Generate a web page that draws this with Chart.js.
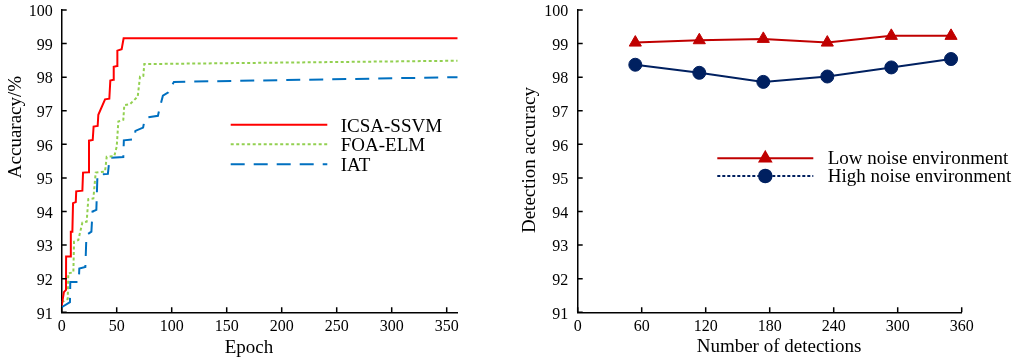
<!DOCTYPE html>
<html>
<head>
<meta charset="utf-8">
<script src="https://cdn.jsdelivr.net/npm/chart.js@4.4.1/dist/chart.umd.min.js"></script>
<style>
  html, body { margin: 0; padding: 0; background: #fff; }
  #wrap { position: relative; width: 1025px; height: 359px; }
  canvas { position: absolute; top: 0; }
  #left { left: 0; }
  #right { left: 500px; }
</style>
</head>
<body>
<div id="wrap">
  <canvas id="left" width="480" height="359"></canvas>
  <canvas id="right" width="525" height="359"></canvas>
</div>
<script>
'use strict';

/* DATA */

// left panel: accuracy per epoch (step curves)
const icsaEpoch = [0, 2, 3.9, 4, 8.2, 8.3, 9.7, 10.3, 12.8, 13.2, 18.8, 19.4, 24.2, 24.8, 28.2, 29, 32.7, 33.3, 39.4, 43.3, 44.2, 47, 47.3, 50.3, 50.6, 54.5, 56.3, 360];
const icsaAcc   = [91.2, 91.6, 91.67, 92.66, 92.66, 93.4, 93.4, 94.25, 94.28, 94.6, 94.62, 95.16, 95.17, 96.11, 96.13, 96.53, 96.55, 96.88, 97.34, 97.36, 97.9, 97.92, 98.31, 98.33, 98.79, 98.83, 99.16, 99.16];

const foaEpoch = [0, 5.5, 6, 10.6, 11.2, 15.1, 18.8, 22.7, 24.2, 28.8, 30.9, 39.4, 40.9, 47.8, 50, 51.5, 56, 56.9, 62.1, 69.1, 71.2, 74.2, 75.1, 360];
const foaAcc   = [91.3, 91.4, 92.16, 92.19, 93.1, 93.15, 93.67, 93.7, 94.37, 94.39, 95.16, 95.19, 95.63, 95.65, 95.93, 96.68, 96.73, 97.17, 97.2, 97.42, 98.02, 98.04, 98.39, 98.49];

const iatEpoch = [0, 7.5, 7.8, 15.5, 16, 21.5, 22.5, 27, 28, 31.5, 32.5, 42, 43.5, 56, 56.5, 66, 67, 74, 75.5, 77.5, 87.5, 88.5, 92, 97, 102, 360];
const iatAcc   = [91.15, 91.3, 91.9, 91.9, 92.3, 92.35, 93.3, 93.4, 94.0, 94.05, 95.1, 95.12, 95.6, 95.62, 96.12, 96.15, 96.4, 96.5, 96.75, 96.8, 96.85, 97.0, 97.45, 97.55, 97.86, 98.0];

// right panel: accuracy per number of detections
const detections = [54, 114, 174, 234, 294, 350];
const lowNoise   = [99.03, 99.1, 99.14, 99.03, 99.23, 99.23];
const highNoise  = [98.37, 98.13, 97.86, 98.02, 98.29, 98.54];

// tick labels
const accuracyTicks  = [91, 92, 93, 94, 95, 96, 97, 98, 99, 100];
const epochTicks     = [0, 50, 100, 150, 200, 250, 300, 350];
const detectionTicks = [0, 60, 120, 180, 240, 300, 360];

/* HELPERS */

const FONT = "'Liberation Serif', 'Times New Roman', serif";

function points(xs, ys) {
  return xs.map(function(x, i) { return { x: x, y: ys[i] }; });
}

function fixedTicks(values) {
  return function(scale) {
    scale.ticks = values.map(function(v) { return { value: v }; });
  };
}

// fixed axis box sizes, labels may overflow the plot edges
function fixedSize(w, h) {
  return function(s) {
    if (w) s.width = w;
    if (h) s.height = h;
    s.paddingTop = 0;
    s.paddingBottom = 0;
    s.paddingLeft = 0;
    s.paddingRight = 0;
  };
}

// inward tick marks, free placed axis titles and a legend inside the plot
const decor = {
  id: 'decor',
  afterDraw(chart, args, opts) {
    const ctx = chart.ctx;
    const area = chart.chartArea;
    const xs = chart.scales.x;
    const ys = chart.scales.y;
    ctx.save();

    ctx.strokeStyle = '#000';
    ctx.lineWidth = 1.5;
    ctx.beginPath();
    xs.ticks.forEach(function(t) {
      const px = xs.getPixelForValue(t.value);
      ctx.moveTo(px, area.bottom);
      ctx.lineTo(px, area.bottom - 5);
    });
    ys.ticks.forEach(function(t) {
      const py = ys.getPixelForValue(t.value);
      ctx.moveTo(area.left, py);
      ctx.lineTo(area.left + 5, py);
    });
    ctx.stroke();

    ctx.fillStyle = '#000';
    ctx.font = '19px ' + FONT;
    ctx.textAlign = 'center';
    ctx.textBaseline = 'middle';
    opts.titles.forEach(function(t) {
      ctx.save();
      ctx.translate(t.x, t.y);
      if (t.rotate) ctx.rotate(-Math.PI / 2);
      ctx.fillText(t.text, 0, 0);
      ctx.restore();
    });

    const lg = opts.legend;
    chart.data.datasets.forEach(function(ds, i) {
      const y = lg.rows[i];
      ctx.save();
      ctx.strokeStyle = ds.borderColor;
      ctx.lineWidth = ds.borderWidth;
      ctx.setLineDash(ds.legendDash || ds.borderDash || []);
      ctx.beginPath();
      ctx.moveTo(lg.x1, y);
      ctx.lineTo(lg.x2, y);
      ctx.stroke();
      ctx.restore();
      if (ds.pointRadius > 0) {
        ctx.fillStyle = ds.pointBackgroundColor;
        ctx.strokeStyle = ds.pointBackgroundColor;
        Chart.helpers.drawPoint(ctx, {
          pointStyle: ds.pointStyle, radius: ds.pointRadius, rotation: 0, borderWidth: 1
        }, (lg.x1 + lg.x2) / 2, y);
      }
      ctx.fillStyle = '#000';
      ctx.textAlign = 'left';
      ctx.textBaseline = 'middle';
      ctx.fillText(ds.label, lg.textX, y + lg.textDy);
    });

    ctx.restore();
  }
};

function axis(min, max, ticks, pad, offset) {
  return {
    type: 'linear',
    min: min,
    max: max,
    afterBuildTicks: fixedTicks(ticks),
    grid: { display: false, drawTicks: false },
    border: { display: true, color: '#000', width: 1.5 },
    ticks: {
      color: '#000',
      font: { family: FONT, size: 16 },
      padding: pad,
      labelOffset: offset || 0,
      maxRotation: 0,
      autoSkip: false,
      includeBounds: false
    }
  };
}

function baseOptions(padRight, xScale, yScale, decorOpts) {
  return {
    responsive: false,
    animation: false,
    devicePixelRatio: 1,
    layout: { padding: { top: 10, right: padRight, bottom: 0, left: 0 } },
    scales: { x: xScale, y: yScale },
    plugins: {
      legend: { display: false },
      tooltip: { enabled: false },
      decor: decorOpts
    }
  };
}

/* LEFT CHART */

const leftX = axis(0, 360, epochTicks, 5);
leftX.afterFit = fixedSize(0, 46.7);
const leftY = axis(91, 100, accuracyTicks, 9, 2);
leftY.afterFit = fixedSize(61.7, 0);

new Chart(document.getElementById('left').getContext('2d'), {
  type: 'line',
  data: {
    datasets: [{
      label: 'ICSA-SSVM',
      data: points(icsaEpoch, icsaAcc),
      borderColor: '#FF0000',
      borderWidth: 2,
      pointRadius: 0,
      tension: 0
    },
    {
      label: 'FOA-ELM',
      data: points(foaEpoch, foaAcc),
      borderColor: '#92D050',
      borderWidth: 2,
      borderDash: [3, 2.5],
      pointRadius: 0,
      tension: 0
    },
    {
      label: 'IAT',
      data: points(iatEpoch, iatAcc),
      borderColor: '#0070C0',
      borderWidth: 2,
      borderDash: [14, 9],
      pointRadius: 0,
      tension: 0
    }]
  },
  options: baseOptions(22.3, leftX, leftY, {
    titles: [
      { text: 'Epoch', x: 249, y: 348 },
      { text: 'Accuaracy/%', x: 16, y: 127, rotate: true }
    ],
    legend: { x1: 230.7, x2: 327.3, textX: 340.7, textDy: 2, rows: [124.7, 144.3, 164.3] }
  }),
  plugins: [decor]
});

/* RIGHT CHART */

const rightX = axis(0, 360, detectionTicks, 5);
rightX.afterFit = fixedSize(0, 46.7);
const rightY = axis(91, 100, accuracyTicks, 9.5, 2);
rightY.afterFit = fixedSize(77.7, 0);

new Chart(document.getElementById('right').getContext('2d'), {
  type: 'line',
  data: {
    datasets: [{
      label: 'Low noise environment',
      data: points(detections, lowNoise),
      borderColor: '#C00000',
      borderWidth: 2,
      pointStyle: 'triangle',
      pointRadius: 7,
      pointBackgroundColor: '#C00000',
      pointBorderColor: '#C00000',
      pointBorderWidth: 1,
      tension: 0
    },
    {
      label: 'High noise environment',
      data: points(detections, highNoise),
      borderColor: '#002060',
      borderWidth: 2,
      legendDash: [3, 2],
      pointStyle: 'circle',
      pointRadius: 6.5,
      pointBackgroundColor: '#002060',
      pointBorderColor: '#002060',
      pointBorderWidth: 1,
      tension: 0
    }]
  },
  options: baseOptions(63.3, rightX, rightY, {
    titles: [
      { text: 'Number of detections', x: 279, y: 347 },
      { text: 'Detection accuracy', x: 30.5, y: 160, rotate: true }
    ],
    legend: { x1: 217.3, x2: 313.3, textX: 327.7, textDy: 1, rows: [158.3, 176] }
  }),
  plugins: [decor]
});
</script>
</body>
</html>
